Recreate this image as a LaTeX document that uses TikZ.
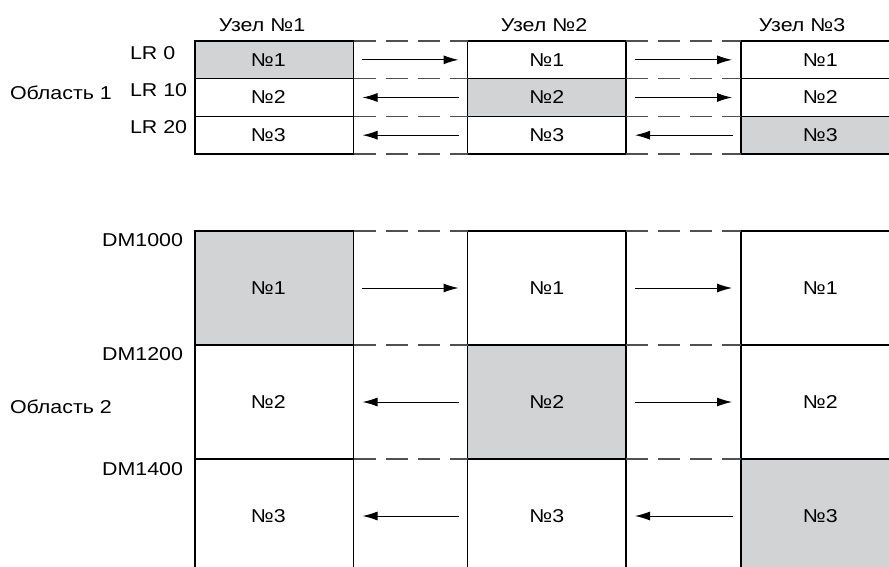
\documentclass[tikz,border=0pt]{standalone}
\usepackage{fontspec}
\setmainfont{Liberation Sans}[FakeStretch=1.15]
\usetikzlibrary{arrows.meta}
\definecolor{cellgray}{HTML}{D1D3D4}
\definecolor{dashgray}{HTML}{505050}
\begin{document}
\begin{tikzpicture}[x=1pt,y=-1pt,
  txt/.style={font=\fontsize{18.6}{20}\selectfont, inner sep=0pt, outer sep=0pt},
  cell/.style={txt, draw=black, line width=1.1pt, minimum width=158.5pt, anchor=center},
  topcell/.style={cell, minimum height=37.67pt},
  botcell/.style={cell, minimum height=114pt},
  firstcol/.style={execute at begin node={\hspace*{-12pt}}},
  shaded/.style={fill=cellgray},
  gapline/.style={draw=dashgray, line width=1.1pt, dash pattern=on 22pt off 10pt},
  arr/.style={-{Latex[length=15pt,width=9pt]}, line width=1pt, shorten <=8.5pt, shorten >=9pt}
]
\useasboundingbox (0,0) rectangle (889,567);

% ---- upper section (LR area) ----
\node[topcell,firstcol,shaded] (c11) at (274.25,59.83)  {№1};
\node[topcell,firstcol]        (c12) at (274.25,97.5)   {№2};
\node[topcell,firstcol]        (c13) at (274.25,135.17) {№3};
\node[topcell]                 (c21) at (546.75,59.83)  {№1};
\node[topcell,shaded]          (c22) at (546.75,97.5)   {№2};
\node[topcell]                 (c23) at (546.75,135.17) {№3};
\node[topcell]                 (c31) at (820.25,59.83)  {№1};
\node[topcell]                 (c32) at (820.25,97.5)   {№2};
\node[topcell,shaded]          (c33) at (820.25,135.17) {№3};

% ---- lower section (DM area) ----
\node[botcell,firstcol,shaded] (d11) at (274.25,288) {№1};
\node[botcell,firstcol]        (d12) at (274.25,402) {№2};
\node[botcell,firstcol]        (d13) at (274.25,516) {№3};
\node[botcell]                 (d21) at (546.75,288) {№1};
\node[botcell,shaded]          (d22) at (546.75,402) {№2};
\node[botcell]                 (d23) at (546.75,516) {№3};
\node[botcell]                 (d31) at (820.25,288) {№1};
\node[botcell]                 (d32) at (820.25,402) {№2};
\node[botcell,shaded]          (d33) at (820.25,516) {№3};

% ---- dashed lines across the gaps ----
\foreach \a/\b in {1/2,2/3}{
  \draw[gapline] (c\a1.north east) -- (c\b1.north west);
  \draw[gapline] (c\a2.north east) -- (c\b2.north west);
  \draw[gapline] (c\a3.north east) -- (c\b3.north west);
  \draw[gapline] (c\a3.south east) -- (c\b3.south west);
  \draw[gapline] (d\a1.north east) -- (d\b1.north west);
  \draw[gapline] (d\a2.north east) -- (d\b2.north west);
  \draw[gapline] (d\a3.north east) -- (d\b3.north west);
}

% ---- arrows ----
\draw[arr] (c11.east) -- (c21.west);
\draw[arr] (c21.east) -- (c31.west);
\draw[arr] (c22.west) -- (c12.east);
\draw[arr] (c22.east) -- (c32.west);
\draw[arr] (c23.west) -- (c13.east);
\draw[arr] (c33.west) -- (c23.east);

\draw[arr] (d11.east) -- (d21.west);
\draw[arr] (d21.east) -- (d31.west);
\draw[arr] (d22.west) -- (d12.east);
\draw[arr] (d22.east) -- (d32.west);
\draw[arr] (d23.west) -- (d13.east);
\draw[arr] (d33.west) -- (d23.east);

% ---- labels ----
\node[txt] (u1) at (262,25) {Узел №1};
\node[txt] (u2) at (544,25) {Узел №2};
\node[txt] (u3) at (802,25) {Узел №3};

\node[txt,anchor=west] (lr0)  at (130,53)  {LR 0};
\node[txt,anchor=west] (lr10) at (130,90)  {LR 10};
\node[txt,anchor=west] (lr20) at (130,127) {LR 20};
\node[txt,anchor=west] (ob1)  at (10,93)   {Область 1};

\node[txt,anchor=east] (dm1000) at (183,240) {DM1000};
\node[txt,anchor=east] (dm1200) at (183,354) {DM1200};
\node[txt,anchor=east] (dm1400) at (183,469) {DM1400};
\node[txt,anchor=west] (ob2)    at (10,406.5) {Область 2};
\end{tikzpicture}
\end{document}
